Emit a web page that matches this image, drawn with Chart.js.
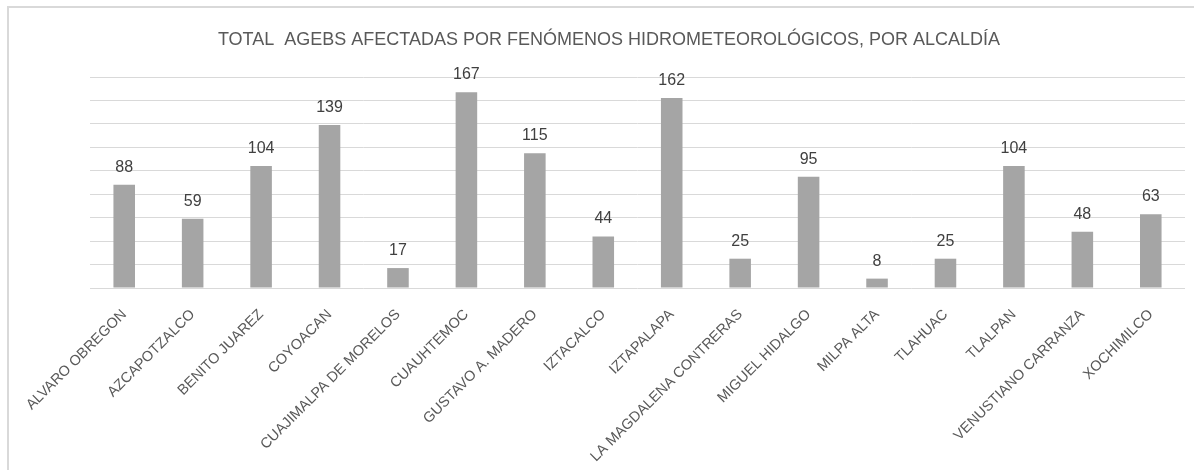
<!DOCTYPE html>
<html>
<head>
<meta charset="utf-8">
<script src="https://cdn.jsdelivr.net/npm/chart.js@4.4.1/dist/chart.umd.min.js"></script>
<style>
  html, body { margin: 0; padding: 0; background: #fff; overflow: hidden; }
  #marco { position: absolute; left: 7px; top: 6px; width: 1200px; height: 480px; border: 2px solid #d9d9d9; }
  #contenedor { position: absolute; left: 0; top: 0; width: 1194px; height: 470px; }
</style>
</head>
<body>
<div id="marco"></div>
<div id="contenedor"><canvas id="graficaAgebs" width="1194" height="470"></canvas></div>
<script>
// Datos de la grafica
const alcaldias = [
    'ALVARO OBREGON', 'AZCAPOTZALCO', 'BENITO JUAREZ', 'COYOACAN',
    'CUAJIMALPA DE MORELOS', 'CUAUHTEMOC', 'GUSTAVO A. MADERO', 'IZTACALCO',
    'IZTAPALAPA', 'LA MAGDALENA CONTRERAS', 'MIGUEL HIDALGO', 'MILPA ALTA',
    'TLAHUAC', 'TLALPAN', 'VENUSTIANO CARRANZA', 'XOCHIMILCO'
];
const agebsAfectadas = [88, 59, 104, 139, 17, 167, 115, 44, 162, 25, 95, 8, 25, 104, 48, 63];
const ejeYMax = 180;
const ejeYPaso = 20;
const tituloGrafica = 'TOTAL  AGEBS AFECTADAS POR FENÓMENOS HIDROMETEOROLÓGICOS, POR ALCALDÍA';

const fuente = '"Liberation Sans", Arial, sans-serif';

// Plugin sencillo para escribir el valor arriba de cada barra
const etiquetasValor = {
    id: 'etiquetasValor',
    afterDatasetsDraw(chart) {
        const ctx = chart.ctx;
        const meta = chart.getDatasetMeta(0);
        ctx.save();
        ctx.font = '16px ' + fuente;
        ctx.fillStyle = '#404040';
        ctx.textAlign = 'center';
        ctx.textBaseline = 'alphabetic';
        meta.data.forEach((barra, i) => {
            ctx.fillText(agebsAfectadas[i], barra.x, barra.y - 13);
        });
        ctx.restore();
    }
};

const ctx = document.getElementById('graficaAgebs').getContext('2d');
const grafica = new Chart(ctx, {
    type: 'bar',
    data: {
        labels: alcaldias,
        datasets: [{
            data: agebsAfectadas,
            backgroundColor: '#a5a5a5',
            borderWidth: 0,
            barPercentage: 0.315,
            categoryPercentage: 1
        }]
    },
    options: {
        responsive: false,
        animation: false,
        devicePixelRatio: 1,
        // el titulo se centra entre left y right, el eje y ocupa el resto hasta x=90
        layout: { padding: { left: 33, right: 9, top: 0, bottom: 0 } },
        plugins: {
            legend: { display: false },
            tooltip: { enabled: false },
            title: {
                display: true,
                text: tituloGrafica,
                color: '#595959',
                font: { family: fuente, size: 18, weight: 'normal' },
                padding: { top: 29, bottom: 26.4 }
            }
        },
        scales: {
            x: {
                grid: { display: false, drawTicks: false },
                border: { display: false },
                ticks: {
                    color: '#595959',
                    font: { family: fuente, size: 14.5 },
                    minRotation: 45,
                    maxRotation: 45,
                    autoSkip: false,
                    padding: 18
                },
                afterFit(scale) { scale.height = 182; }
            },
            y: {
                min: 0,
                max: ejeYMax,
                ticks: { display: false, stepSize: ejeYPaso },
                grid: { color: '#d9d9d9', lineWidth: 1, drawTicks: false },
                border: { display: false },
                afterFit(scale) { scale.width = 57; }
            }
        }
    },
    plugins: [etiquetasValor]
});
</script>
</body>
</html>
